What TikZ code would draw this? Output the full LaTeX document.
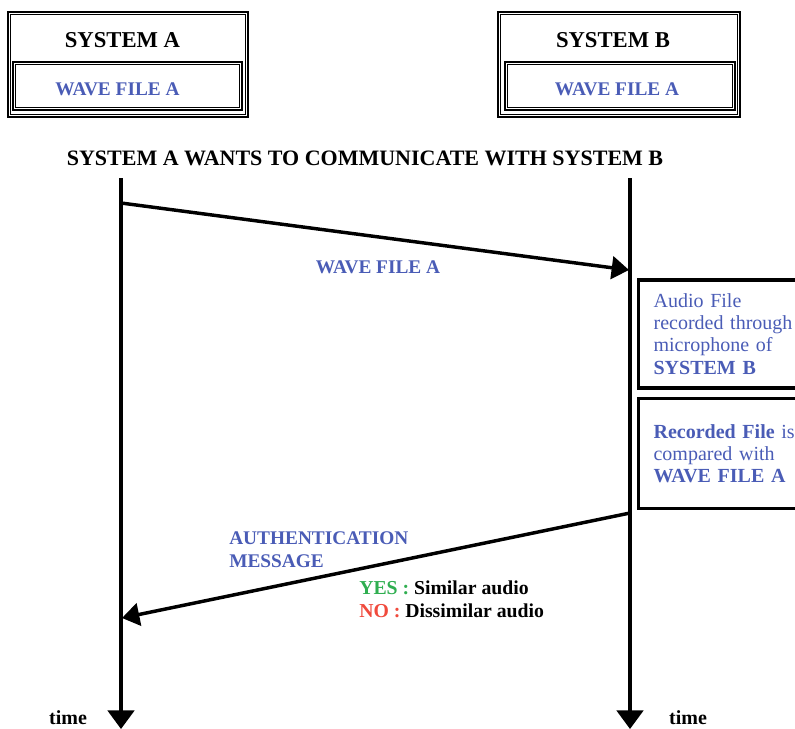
\documentclass[tikz,border=0pt]{standalone}
\usepackage{fontspec}
\setmainfont{Liberation Serif}
\usetikzlibrary{arrows.meta,positioning}
\definecolor{MsgBlue}{HTML}{4A5CB6}
\definecolor{YesGreen}{HTML}{2FAE50}
\definecolor{NoRed}{HTML}{F04A3C}

\begin{document}
\begin{tikzpicture}[x=0.75pt,y=-0.75pt,
  sysframe/.style={draw,line width=2.2pt,inner sep=0pt},
  systitle/.style={anchor=base,font=\fontsize{17}{20}\selectfont\bfseries},
  filetext/.style={anchor=base,text=MsgBlue,font=\fontsize{14.5}{17}\selectfont\bfseries},
  notebox/.style={draw,line width=2.4pt,anchor=west,text width=112.5pt,align=left,
    inner xsep=11.25pt,minimum height=81pt,text=MsgBlue,font=\fontsize{15}{16.7}\selectfont},
  msg/.style={line width=2.6pt,-{Triangle[length=13pt,width=17pt]}},
  lifeline/.style={line width=2.3pt,-{Triangle[length=14pt,width=20pt]}}]
\useasboundingbox (0,0) rectangle (795,728);
\clip (0,0) rectangle (795,728);

% systems
\node[sysframe,minimum width=180pt,minimum height=78.75pt] (sysA) at (128,64.5) {};
\node[sysframe,minimum width=171.75pt,minimum height=36pt] (fileA) at (127.5,86) {};
\node[sysframe,minimum width=181.5pt,minimum height=78.75pt] (sysB) at (619,64.5) {};
\node[sysframe,minimum width=172.5pt,minimum height=36pt] (fileB) at (620,86) {};
\foreach \n in {sysA,fileA,sysB,fileB}
  \draw[line width=0.7pt] ([xshift=3.2pt,yshift=-3.2pt]\n.north west) rectangle ([xshift=-3.2pt,yshift=3.2pt]\n.south east);
\node[systitle] (nameA) at (122.5,47) {SYSTEM A};
\node[filetext] (waveA) at (117.5,95) {WAVE FILE A};
\node[systitle] (nameB) at (613,47) {SYSTEM B};
\node[filetext] (waveB) at (617,95) {WAVE FILE A};

\node[anchor=base,font=\fontsize{16.5}{19}\selectfont\bfseries] (title) at (365,165)
  {SYSTEM A WANTS TO COMMUNICATE WITH SYSTEM B};

% lifelines
\coordinate (topA) at (121,178);
\coordinate (endA) at (121,729);
\coordinate (topB) at (630,178);
\coordinate (endB) at (630,729);
\draw[lifeline] (topA) -- (endA);
\draw[lifeline] (topB) -- (endB);
\node[anchor=base,font=\fontsize{15}{18}\selectfont\bfseries] (timeA) at (68,724) {time};
\node[anchor=base,font=\fontsize{15}{18}\selectfont\bfseries] (timeB) at (688,724) {time};

% messages
\coordinate (sendA) at (121,203);
\coordinate (recvB) at (629,270);
\draw[msg] (sendA) -- (recvB);
\node[filetext] (waveMsg) at (378,273) {WAVE FILE A};

\node[notebox] (recorded) at (637,334) {Audio File\\recorded through\\microphone of\\\textbf{SYSTEM B}};
\node[notebox,minimum height=83pt] (compared) at (637,453.5) {\textbf{Recorded File} is\\compared with\\\textbf{WAVE FILE A}};

\coordinate (sendB) at (630,513);
\coordinate (recvA) at (122,618);
\draw[msg] (sendB) -- (recvA);
\node[anchor=north west,align=left,inner sep=0pt,text=MsgBlue,
  font=\fontsize{14.5}{17.25}\selectfont\bfseries] (auth) at (229,531) {AUTHENTICATION\\MESSAGE};
\node[anchor=north west,align=left,inner sep=0pt,
  font=\fontsize{14.8}{17.25}\selectfont\bfseries] (result) at (359,581)
  {\textcolor{YesGreen}{YES :} Similar audio\\\textcolor{NoRed}{NO :} Dissimilar audio};
\end{tikzpicture}
\end{document}
